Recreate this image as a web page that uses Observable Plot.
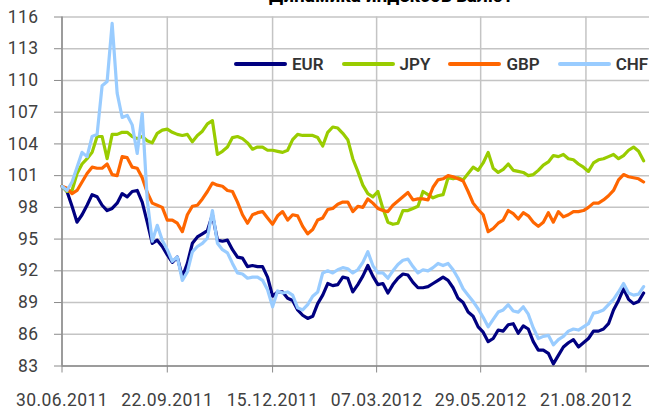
<!DOCTYPE html>
<html>
<head>
<meta charset="utf-8">
<script src="https://cdn.jsdelivr.net/npm/d3@7"></script>
<script src="https://cdn.jsdelivr.net/npm/@observablehq/plot@0.6"></script>
<style>
  html, body { margin: 0; padding: 0; background: #fff; overflow: hidden; }
  #wrap { position: relative; width: 649px; height: 409px; overflow: hidden; font-family: Roboto, sans-serif; }
  #title { position: absolute; top: -14px; left: 391px; transform: translateX(-50%); white-space: nowrap;
           font: bold 19px/19px Roboto, sans-serif; color: #000; }
  #legend { position: absolute; top: 53px; left: 234px; display: flex; align-items: center; gap: 18px;
            font: 600 17px/22px Roboto, sans-serif; color: #333; }
  #legend .item { display: flex; align-items: center; }
  #legend .sw { width: 53px; height: 3.5px; margin-right: 5px; border-radius: 2px; }
  svg text { letter-spacing: 0.4px; }
</style>
</head>
<body>
<div id="wrap">
  <div id="title"></div>
  <div id="legend"></div>
</div>
<script>
const titleText = "Динамика индексов валют";
const seriesNames = ["EUR", "JPY", "GBP", "CHF"];
const seriesColors = ["#000080", "#99cc00", "#ff6600", "#99ccff"];
const startDate = "2011-06-30";
const stepDays = 4;
const xTickLabels = ["30.06.2011", "22.09.2011", "15.12.2011", "07.03.2012", "29.05.2012", "21.08.2012"];
const yTicks = [83, 86, 89, 92, 95, 98, 101, 104, 107, 110, 113, 116];

const eur = [100.0, 99.5, 98.1, 96.6, 97.3, 98.2, 99.2, 99.0, 98.2, 97.7, 97.9, 98.4, 99.3, 99.0, 99.5, 99.6, 98.5, 96.6, 94.6, 94.9,
  94.3, 93.5, 92.8, 93.3, 91.4, 92.7, 94.6, 95.2, 95.5, 95.8, 97.3, 94.9, 94.8, 94.9, 94.0, 93.3, 93.2, 92.4, 92.5, 92.4,
  92.4, 91.4, 89.6, 90.0, 90.0, 89.4, 89.2, 88.3, 87.8, 87.5, 87.7, 88.9, 89.7, 90.8, 90.6, 90.7, 91.4, 91.3, 90.0, 90.7,
  91.5, 92.5, 91.5, 90.7, 90.8, 89.9, 90.7, 91.3, 91.7, 91.6, 90.9, 90.4, 90.4, 90.5, 90.8, 91.1, 91.4, 91.1, 90.4, 89.4,
  89.0, 88.1, 87.7, 86.7, 86.2, 85.3, 85.6, 86.4, 86.3, 86.9, 87.0, 86.1, 86.8, 86.5, 85.3, 84.5, 84.5, 84.2, 83.2, 84.0,
  84.8, 85.2, 85.5, 84.8, 85.2, 85.6, 86.3, 86.3, 86.5, 87.0, 88.3, 89.2, 90.3, 89.3, 88.9, 89.1, 89.9];
const jpy = [100.0, 99.5, 99.6, 101.2, 102.1, 102.6, 103.2, 104.7, 104.7, 102.6, 104.9, 104.9, 105.1, 105.1, 104.7, 104.5, 104.7, 104.3, 104.1, 105.0,
  105.3, 105.4, 105.1, 104.9, 104.8, 104.9, 104.2, 104.8, 105.2, 105.9, 106.2, 103.0, 103.3, 103.7, 104.6, 104.7, 104.5, 104.1, 103.5, 103.7,
  103.7, 103.4, 103.4, 103.3, 103.2, 103.4, 104.4, 104.9, 104.8, 104.8, 104.8, 104.6, 103.8, 105.1, 105.6, 105.5, 105.0, 104.4, 102.6, 101.4,
  100.1, 99.3, 99.0, 99.5, 97.9, 96.6, 96.4, 96.5, 97.7, 97.7, 97.9, 98.1, 99.5, 99.2, 98.9, 99.1, 99.2, 100.8, 100.7, 100.8,
  100.6, 101.2, 101.8, 101.5, 102.2, 103.2, 101.7, 101.3, 101.6, 102.1, 101.5, 101.4, 101.3, 101.0, 101.1, 101.5, 102.0, 102.3, 102.9, 102.8,
  103.0, 102.6, 102.5, 102.1, 101.8, 101.4, 102.2, 102.5, 102.6, 102.8, 103.0, 102.6, 102.9, 103.4, 103.7, 103.3, 102.4];
const gbp = [100.0, 99.8, 99.3, 99.6, 100.4, 101.2, 101.8, 101.7, 101.7, 102.1, 101.1, 101.0, 102.8, 102.7, 101.8, 101.7, 100.8, 99.4, 98.4, 98.2,
  98.0, 96.8, 96.8, 96.5, 95.7, 97.3, 98.1, 98.2, 98.8, 99.5, 100.3, 100.1, 100.0, 99.6, 99.5, 98.5, 97.3, 96.5, 97.3, 97.5,
  97.6, 97.0, 96.4, 97.2, 97.6, 96.8, 97.3, 97.2, 96.2, 95.5, 95.9, 96.8, 97.0, 97.8, 97.9, 98.3, 98.5, 98.5, 97.6, 98.1,
  98.0, 98.8, 98.4, 97.9, 97.7, 97.6, 98.2, 98.6, 99.0, 99.4, 98.7, 98.8, 98.8, 98.7, 99.9, 100.6, 100.7, 101.0, 100.9, 100.7,
  100.5, 99.5, 98.4, 97.8, 97.3, 95.7, 96.0, 96.5, 96.8, 97.7, 97.4, 96.9, 97.5, 97.2, 96.6, 96.2, 96.6, 97.5, 96.6, 97.6,
  97.1, 97.3, 97.6, 97.6, 97.7, 98.0, 98.4, 98.4, 98.7, 99.1, 99.6, 100.6, 101.1, 100.9, 100.8, 100.7, 100.4];
const chf = [100.0, 99.6, 100.4, 101.8, 103.2, 102.8, 104.7, 104.9, 109.5, 109.9, 115.4, 108.8, 106.5, 106.7, 105.8, 103.1, 106.9, 98.7, 94.8, 96.3,
  94.9, 94.0, 92.9, 93.3, 91.1, 91.9, 93.8, 94.3, 94.6, 95.1, 97.7, 94.6, 94.0, 93.7, 92.7, 91.8, 91.7, 91.3, 91.4, 91.4,
  91.1, 90.2, 88.6, 90.1, 89.9, 90.0, 89.7, 88.5, 88.3, 88.8, 89.6, 90.0, 91.8, 92.0, 91.8, 92.1, 92.3, 92.2, 91.8, 92.1,
  92.8, 93.8, 92.5, 91.8, 91.8, 91.3, 92.0, 92.6, 93.0, 93.1, 92.4, 91.8, 92.1, 92.0, 92.3, 92.7, 92.5, 92.7, 92.1, 91.3,
  90.3, 89.7, 89.1, 88.4, 87.6, 86.7, 87.4, 88.1, 88.3, 88.8, 88.2, 88.1, 88.6, 87.9, 86.6, 85.6, 85.8, 85.9, 85.0, 85.5,
  85.8, 86.3, 86.5, 86.4, 86.7, 87.0, 88.0, 88.1, 88.3, 88.8, 89.3, 90.0, 90.8, 89.9, 89.7, 89.8, 90.5];

const seriesValues = [eur, jpy, gbp, chf];
const parseTick = d3.utcParse("%d.%m.%Y");
const fmtTick = d3.utcFormat("%d.%m.%Y");
const start = d3.utcParse("%Y-%m-%d")(startDate);
const xTicks = xTickLabels.map(parseTick);

const data = [];
seriesNames.forEach((name, s) => {
  seriesValues[s].forEach((v, i) => {
    data.push({series: name, date: d3.utcDay.offset(start, i * stepDays), value: v});
  });
});

const xEnd = new Date(start.getTime() + 468.7 * 864e5);

const chart = Plot.plot({
  width: 649,
  height: 409,
  marginLeft: 61.5,
  marginRight: 0,
  marginTop: 16.5,
  marginBottom: 43.5,
  style: {fontFamily: "Roboto, sans-serif", fontSize: "17.5px", color: "#404040", background: "transparent"},
  x: {type: "utc", domain: [start, xEnd], label: null},
  y: {domain: [83, 116], label: null},
  color: {domain: seriesNames, range: seriesColors},
  marks: [
    Plot.gridY(yTicks, {stroke: "#c4c4c4", strokeOpacity: 1, strokeWidth: 1.5}),
    Plot.gridX(xTicks, {stroke: "#c4c4c4", strokeOpacity: 1, strokeWidth: 1.5}),
    Plot.axisY(yTicks, {label: null, tickSize: 7.5, tickPadding: 16, stroke: "#8a8a8a", fill: "#404040", tickFormat: d => String(d)}),
    Plot.axisX(xTicks, {label: null, tickSize: 7, tickPadding: 21, stroke: "#8a8a8a", fill: "#404040", tickFormat: fmtTick}),
    Plot.ruleX([start], {stroke: "#8a8a8a", strokeWidth: 1.5}),
    Plot.ruleY([83], {stroke: "#8a8a8a", strokeWidth: 1.5}),
    Plot.line(data, {x: "date", y: "value", z: "series", stroke: "series", strokeWidth: 3.2, strokeLinejoin: "round", strokeLinecap: "round"})
  ]
});

const wrap = document.getElementById("wrap");
wrap.insertBefore(chart, wrap.firstChild);
document.getElementById("title").textContent = titleText;
const legend = document.getElementById("legend");
seriesNames.forEach((name, i) => {
  const item = document.createElement("div");
  item.className = "item";
  const sw = document.createElement("span");
  sw.className = "sw";
  sw.style.background = seriesColors[i];
  const label = document.createElement("span");
  label.textContent = name;
  item.appendChild(sw);
  item.appendChild(label);
  legend.appendChild(item);
});
chart.style.position = "absolute";
chart.style.left = "0";
chart.style.top = "0";
</script>
</body>
</html>
